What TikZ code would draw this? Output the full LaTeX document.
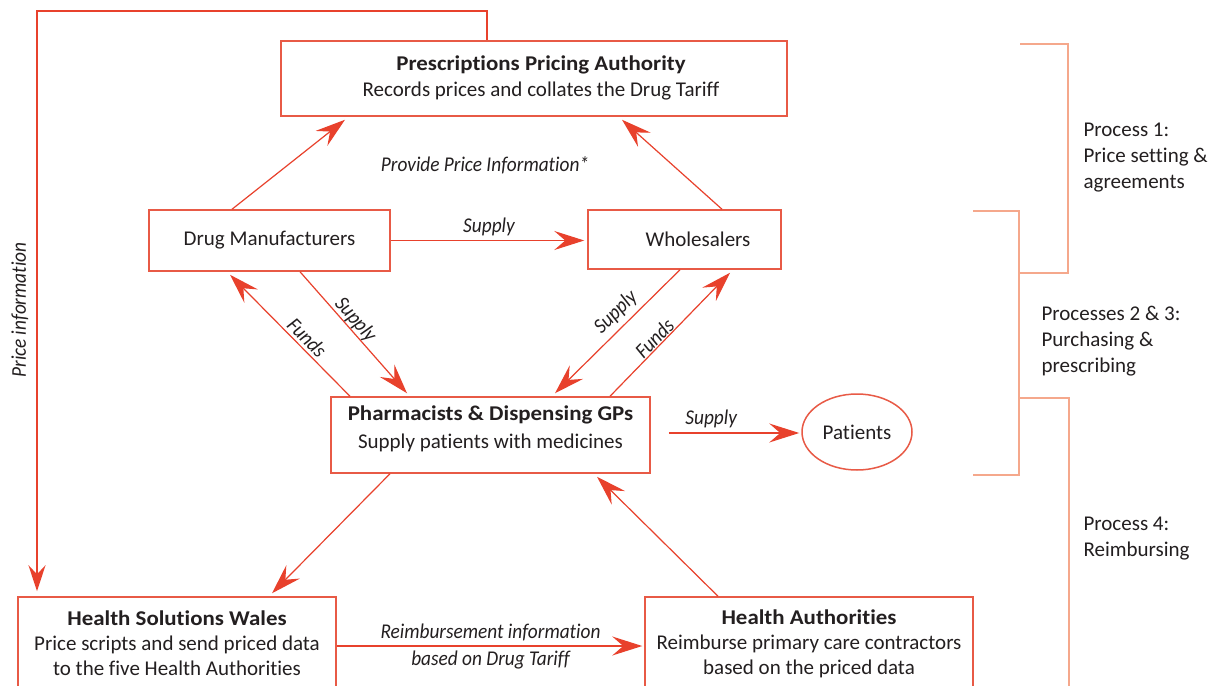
\documentclass[tikz,border=0pt]{standalone}
\usepackage{fontspec}
\setmainfont{Carlito}[Ligatures=NoCommon, BoldFeatures={FakeStretch=1.09}, ItalicFeatures={FakeStretch=0.92}]
\usetikzlibrary{arrows.meta,shapes.geometric,calc}
\definecolor{rd}{HTML}{E8412C}
\definecolor{bxr}{HTML}{E85A46}
\definecolor{brk}{HTML}{F5A88C}
\definecolor{txt}{HTML}{231F20}
\begin{document}
\begin{tikzpicture}[x=1pt,y=-1pt,
  font=\fontsize{21}{25}\selectfont, text=txt,
  box/.style={draw=bxr, line width=1.5pt, align=center, inner sep=0pt},
  conn/.style={draw=rd, line width=1.2pt, -{Stealth[length=30pt,width=19pt,inset=11pt]}},
  lbl/.style={font=\fontsize{21}{25}\selectfont\itshape, inner sep=3pt},
  brack/.style={draw=brk, line width=1.1pt},
  ptxt/.style={anchor=west, align=left, font=\fontsize{21}{26}\selectfont}]
\clip (0,0) rectangle (1214,685);
\fill[white] (0,0) rectangle (1214,685);

% nodes
\node[box, minimum width=506pt, minimum height=75pt] (ppa) at (534,78.5)
  {\hspace*{14pt}\begin{tabular}{@{}c@{}}\textbf{Prescriptions Pricing Authority}\\Records prices and collates the Drug Tariff\end{tabular}};
\node[box, minimum width=241pt, minimum height=61pt] (dm) at (269.5,240.5) {Drug Manufacturers};
\node[box, minimum width=193pt, minimum height=59pt] (wh) at (684.5,239.5) {\hspace*{27pt}Wholesalers};
\node[box, minimum width=319pt, minimum height=76pt] (ph) at (490.5,435)
  {\raisebox{6pt}[\height][\depth]{\begin{tabular}{@{}c@{}}\textbf{Pharmacists \& Dispensing GPs}\\[3pt]Supply patients with medicines\end{tabular}}};
\node[draw=bxr, line width=1.5pt, ellipse, minimum width=110pt, minimum height=76pt, inner sep=0pt] (pat) at (857,432) {Patients};
\node[box, minimum width=318pt, minimum height=93pt] (hsw) at (177,643.5)
  {\textbf{Health Solutions Wales}\\Price scripts and send priced data\\to the five Health Authorities};
\node[box, minimum width=328pt, minimum height=93pt] (ha) at (809,643.5)
  {\textbf{Health Authorities}\\Reimburse primary care contractors\\based on the priced data};

% connectors
\draw[conn] ([xshift=-37.5pt]dm.north) -- ([xshift=-189pt,yshift=-3pt]ppa.south);
\draw[conn] ([xshift=37.5pt]wh.north) -- ([xshift=88pt,yshift=-3pt]ppa.south);
\node[lbl] (ppi) at (485,165) {Provide Price Information*};
\draw[conn, shorten >=3pt] (dm.east) -- (dm.east -| wh.west) node[lbl, midway, above, inner sep=4pt] {Supply};

\draw[conn] ([xshift=-140.5pt]ph.north) -- ([xshift=-39.5pt,yshift=-3pt]dm.south)
  node[lbl, pos=0.42, sloped, above, inner sep=2.5pt] {Funds};
\draw[conn] ([xshift=30.5pt]dm.south) -- ([xshift=-83.5pt,yshift=3pt]ph.north)
  node[lbl, pos=0.45, sloped, above, inner sep=0pt] {Supply};
\draw[conn] ([xshift=-4.5pt]wh.south) -- ([xshift=64.5pt,yshift=3pt]ph.north)
  node[lbl, pos=0.43, sloped, above, inner sep=5pt] {Supply};
\draw[conn] ([xshift=119.5pt]ph.north) -- ([xshift=45.5pt,yshift=-3pt]wh.south)
  node[lbl, pos=0.42, sloped, above, inner sep=0.5pt] {Funds};

\coordinate (phs) at ([xshift=18pt,yshift=2pt]ph.east);
\draw[conn, shorten >=2pt] (phs) -- (phs -| pat.west) node[lbl, pos=0.32, above, inner sep=5pt] {Supply};

\draw[conn] ([xshift=-100.5pt]ph.south) -- ([xshift=95pt,yshift=3pt]hsw.north);
\draw[conn] ([xshift=-91pt]ha.north) -- ([xshift=106.5pt,yshift=-3pt]ph.south);

\coordinate (hswe) at ([yshift=-2.5pt]hsw.east);
\draw[conn, shorten >=2pt] (hswe) -- (hswe -| ha.west)
  node[lbl, midway, above, inner sep=4pt] {Reimbursement information}
  node[lbl, midway, below, inner sep=4pt] {based on Drug Tariff};

% price information feedback line
\coordinate (top) at ([xshift=-47pt]ppa.north);
\draw[draw=rd, line width=2.4pt, -{Stealth[length=26pt,width=17pt,inset=9pt]}, shorten >=5pt]
  (top) -- ++(0,-29) -| ([xshift=-140pt]hsw.north);
\node[lbl, rotate=90] (pinfo) at (20,310) {Price information};

% process brackets
\draw[brack] (1020,44) -- (1068,44) -- (1068,273) -- (1020,273);
\draw[brack] (973,211) -- (1019,211) -- (1019,475) -- (973,475);
\draw[brack] (1019,398) -- (1069,398) -- (1069,690);
\node[ptxt] (p1) at (1080,158) {Process 1:\\Price setting \&\\agreements};
\node[ptxt] (p23) at (1038,341) {Processes 2 \& 3:\\Purchasing \&\\prescribing};
\node[ptxt] (p4) at (1080,539) {Process 4:\\Reimbursing};
\end{tikzpicture}
\end{document}
